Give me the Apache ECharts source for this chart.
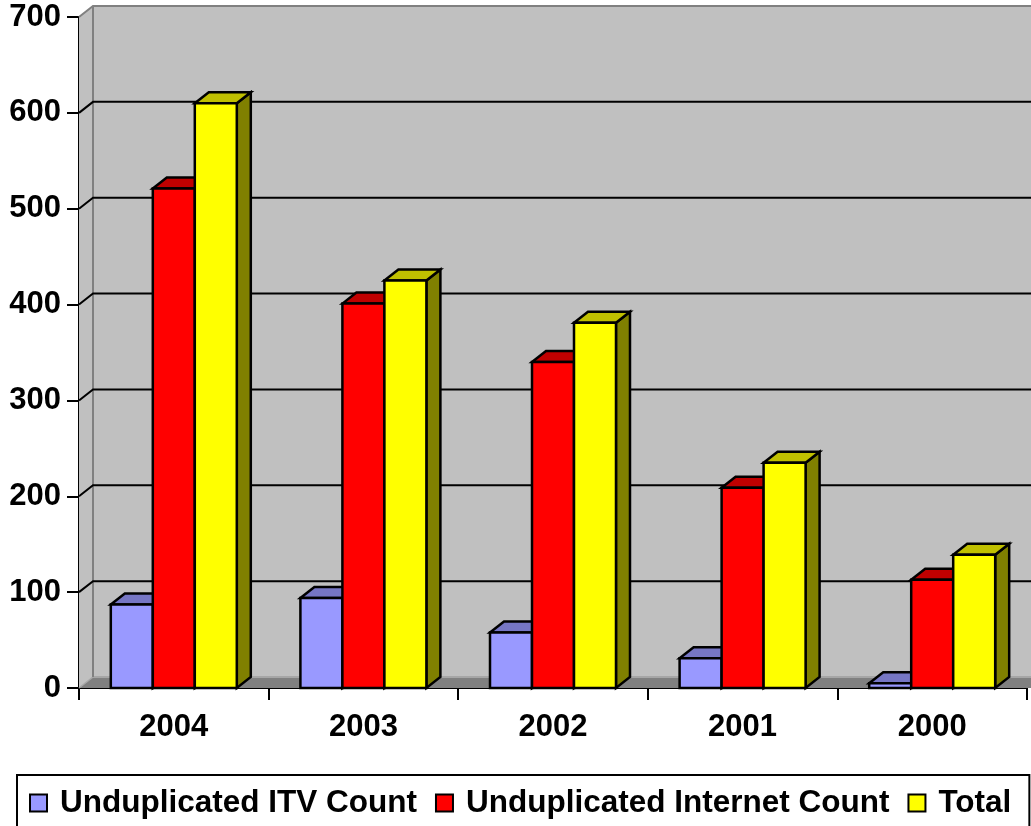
<!DOCTYPE html>
<html>
<head>
<meta charset="utf-8">
<script src="https://cdn.jsdelivr.net/npm/echarts@6/dist/echarts.min.js"></script>
<style>
  html, body { margin: 0; padding: 0; background: #fff; }
  #chart { width: 1031px; height: 826px; }
</style>
</head>
<body>
<div id="chart"></div>
<script>
// 数据
const years = ['2004', '2003', '2002', '2001', '2000'];
const itvCount = [87, 94, 58, 31, 5];
const internetCount = [521, 401, 340, 209, 113];
const totalCount = [610, 425, 381, 235, 139];
const seriesNames = ['Unduplicated ITV Count', 'Unduplicated Internet Count', 'Total'];

// 3D 立体效果
const DX = 14, DY = 11;
const FONT = '"Liberation Sans", Arial, sans-serif';
const faces = [
    { front: '#9999ff', top: '#7676c4', side: '#4d4d80' },
    { front: '#ff0000', top: '#c00000', side: '#800000' },
    { front: '#ffff00', top: '#c0c000', side: '#808000' }
];

// 背景墙、侧墙、地板和网格线
const renderWalls = (params, api) => {
    const cs = params.coordSys;
    const x0 = cs.x, x1 = cs.x + cs.width;
    const y0 = api.coord([0, 0])[1];
    const yTop = api.coord([0, 700])[1];
    const children = [
        { type: 'rect', shape: { x: x0 + DX, y: yTop - DY, width: cs.width + 20, height: y0 - yTop },
          style: { fill: '#c0c0c0' } },
        { type: 'polygon', shape: { points: [[x0, y0], [x0, yTop], [x0 + DX, yTop - DY], [x0 + DX, y0 - DY]] },
          style: { fill: '#c0c0c0' } },
        { type: 'polygon', shape: { points: [[x0, y0], [x1 + 10, y0], [x1 + 10 + DX, y0 - DY], [x0 + DX, y0 - DY]] },
          style: { fill: '#808080' } },
        { type: 'line', shape: { x1: x0 + DX, y1: y0 - DY, x2: x1 + 30, y2: y0 - DY },
          style: { stroke: '#a6a6a6', lineWidth: 2 } },
        { type: 'line', shape: { x1: x0, y1: y0, x2: x0 + DX, y2: y0 - DY },
          style: { stroke: '#a6a6a6', lineWidth: 1.5 } },
        { type: 'line', shape: { x1: x0 + DX, y1: yTop - DY, x2: x0 + DX, y2: y0 - DY },
          style: { stroke: '#808080', lineWidth: 2 } }
    ];
    for (let v = 100; v <= 700; v += 100) {
        const y = api.coord([0, v])[1];
        children.push({
            type: 'polyline',
            shape: { points: [[x0, y], [x0 + DX, y - DY], [x1 + 30, y - DY]] },
            style: { stroke: v === 700 ? '#808080' : '#000', lineWidth: 2, fill: null }
        });
    }
    return { type: 'group', children: children };
};

// 立体柱子
const makeBarRender = (idx) => (params, api) => {
    const c = api.coord([api.value(0), api.value(1)]);
    const base = api.coord([api.value(0), 0]);
    const catW = api.size([1, 0])[0];
    const bw = catW * 0.2215;
    const x = c[0] - 1.5 * bw + idx * bw;
    const yv = c[1], y0 = base[1];
    const f = faces[idx];
    const line = { stroke: '#000', lineWidth: 2.5, lineJoin: 'miter' };
    return {
        type: 'group',
        children: [
            { type: 'polygon', shape: { points: [[x + bw, yv], [x + bw + DX, yv - DY], [x + bw + DX, y0 - DY], [x + bw, y0]] },
              style: Object.assign({ fill: f.side }, line) },
            { type: 'polygon', shape: { points: [[x, yv], [x + DX, yv - DY], [x + bw + DX, yv - DY], [x + bw, yv]] },
              style: Object.assign({ fill: f.top }, line) },
            { type: 'rect', shape: { x: x, y: yv, width: bw, height: y0 - yv },
              style: Object.assign({ fill: f.front }, line) }
        ]
    };
};

const toPairs = (arr) => arr.map((v, i) => [i, v]);
const seriesData = [itvCount, internetCount, totalCount];

const option = {
    backgroundColor: '#ffffff',
    animation: false,
    grid: { left: 79, right: 4, top: 17, bottom: 138 },
    legend: {
        left: 17,
        top: 775,
        icon: 'rect',
        itemWidth: 17,
        itemHeight: 17,
        itemGap: 18,
        padding: [12, 18, 30, 12],
        borderColor: '#000',
        borderWidth: 2,
        textStyle: { fontFamily: FONT, fontWeight: 'bold', fontSize: 31.5, color: '#000', padding: [0, 0, 0, 8] },
        data: seriesNames
    },
    xAxis: {
        type: 'category',
        data: years,
        boundaryGap: true,
        axisLine: { lineStyle: { color: '#000', width: 2 } },
        axisTick: { show: true, length: 12, lineStyle: { color: '#000', width: 2 } },
        axisLabel: { margin: 24, fontFamily: FONT, fontWeight: 'bold', fontSize: 31, color: '#000' },
        splitLine: { show: false }
    },
    yAxis: {
        type: 'value',
        min: 0,
        max: 700,
        interval: 100,
        axisLine: { show: true, lineStyle: { color: '#000', width: 2 } },
        axisTick: { show: true, length: 12, lineStyle: { color: '#000', width: 2 } },
        axisLabel: { margin: 18, fontFamily: FONT, fontWeight: 'bold', fontSize: 31, color: '#000' },
        splitLine: { show: false }
    },
    series: [
        {
            type: 'custom',
            name: 'walls',
            z: 1,
            silent: true,
            renderItem: renderWalls,
            data: [[0, 0]]
        }
    ].concat(seriesNames.map((name, i) => ({
        type: 'custom',
        name: name,
        z: 3,
        renderItem: makeBarRender(i),
        itemStyle: { color: faces[i].front, borderColor: '#000', borderWidth: 1.5 },
        encode: { x: 0, y: 1 },
        data: toPairs(seriesData[i])
    })))
};

const chart = echarts.init(document.getElementById('chart'));
chart.setOption(option);
</script>
</body>
</html>
